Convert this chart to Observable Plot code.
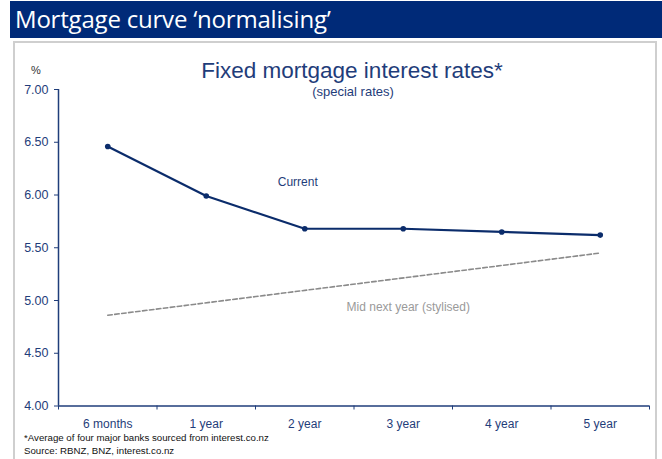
<!DOCTYPE html>
<html>
<head>
<meta charset="utf-8">
<script src="https://cdn.jsdelivr.net/npm/d3@7"></script>
<script src="https://cdn.jsdelivr.net/npm/@observablehq/plot@0.6"></script>
<style>
  html, body { margin: 0; padding: 0; background: #fff; }
  #wrap { position: relative; width: 662px; height: 459px; overflow: hidden; font-family: Arial, "Liberation Sans", sans-serif; }
  #bar { position: absolute; left: 10px; top: 1px; width: 652px; height: 37px; background: #002a78; }
  #bar span { position: absolute; left: 5px; top: 1px; color: #fff; font-family: "Open Sans", sans-serif; font-size: 24px; letter-spacing: -0.2px; white-space: nowrap; }
  #box { position: absolute; left: 13px; top: 41px; width: 640px; height: 430px; border: 2px solid #cfcfcf; border-bottom: none; }
  #chart { position: absolute; left: 0; top: 0; }
  .t { position: absolute; white-space: nowrap; }
  #title { left: 0; width: 704px; text-align: center; top: 58px; font-size: 22.5px; color: #1f3d7a; }
  #sub { left: 0; width: 706px; text-align: center; top: 84px; font-size: 13px; color: #1f3d7a; }
  #pct { left: 31px; top: 64px; font-size: 11px; color: #333; }
  #foot { left: 24px; top: 431px; font-size: 9.7px; color: #111; line-height: 13px; }
</style>
</head>
<body>
<div id="wrap">
  <div id="bar"><span>Mortgage curve ‘normalising’</span></div>
  <div id="box"></div>
  <div id="chart"></div>
  <div class="t" id="title">Fixed mortgage interest rates*</div>
  <div class="t" id="sub">(special rates)</div>
  <div class="t" id="pct">%</div>
  <div class="t" id="foot">*Average of four major banks sourced from interest.co.nz<br>Source: RBNZ, BNZ, interest.co.nz</div>
</div>
<script>
const categories = ["6 months", "1 year", "2 year", "3 year", "4 year", "5 year"];
const current = [6.46, 5.99, 5.68, 5.68, 5.65, 5.62];
const midCategories = ["6 months", "5 year"];
const midNextYear = [4.86, 5.45];
const yTicks = [4.00, 4.50, 5.00, 5.50, 6.00, 6.50, 7.00];
const labels = [
  {text: "Current", category: "2 year", value: 6.12},
  {text: "Mid next year (stylised)", category: "3 year", value: 4.94}
];

const navy = "#1f3d7a";
const lineNavy = "#0b2c6b";
const idx = c => categories.indexOf(c);
const boundaries = categories.map((c, i) => i - 0.5).concat([categories.length - 0.5]);

const currentData = categories.map((c, i) => ({c, v: current[i]}));
const midData = midCategories.map((c, i) => ({c, v: midNextYear[i]}));

const chart = Plot.plot({
  width: 662,
  height: 459,
  marginLeft: 58,
  marginRight: 13,
  marginTop: 89,
  marginBottom: 53.5,
  style: {background: "transparent", fontFamily: "Arial, 'Liberation Sans', sans-serif", color: navy},
  x: {type: "linear", domain: [-0.5, categories.length - 0.5]},
  y: {domain: [4, 7]},
  marks: [
    Plot.axisY({ticks: yTicks, tickFormat: d => d.toFixed(2), tickSize: 4, tickPadding: 6, fontSize: 12.5, fill: navy, stroke: navy, label: null}),
    Plot.axisX({ticks: boundaries, tickFormat: () => "", tickSize: 4, stroke: navy, label: null}),
    Plot.axisX({ticks: categories.map((c, i) => i), tickFormat: i => categories[i], tickSize: 0, tickPadding: 13, fontSize: 12, fill: navy, label: null}),
    Plot.ruleY([yTicks[0]], {stroke: navy, strokeWidth: 1.5}),
    Plot.ruleX([boundaries[0]], {stroke: navy, strokeWidth: 1.5}),
    Plot.line(midData, {x: d => idx(d.c), y: "v", stroke: "#8a8a8a", strokeWidth: 1.6, strokeDasharray: "4.5,2.5"}),
    Plot.line(currentData, {x: d => idx(d.c), y: "v", stroke: lineNavy, strokeWidth: 2.2}),
    Plot.dot(currentData, {x: d => idx(d.c), y: "v", r: 2.8, fill: lineNavy, stroke: null}),
    Plot.text(labels.slice(0, 1), {x: d => idx(d.category), y: "value", text: "text", dx: -7, fontSize: 12, fill: navy}),
    Plot.text(labels.slice(1), {x: d => idx(d.category), y: "value", text: "text", dx: 5, fontSize: 12, fill: "#9a9a9a"})
  ]
});
document.getElementById("chart").appendChild(chart);
</script>
</body>
</html>
